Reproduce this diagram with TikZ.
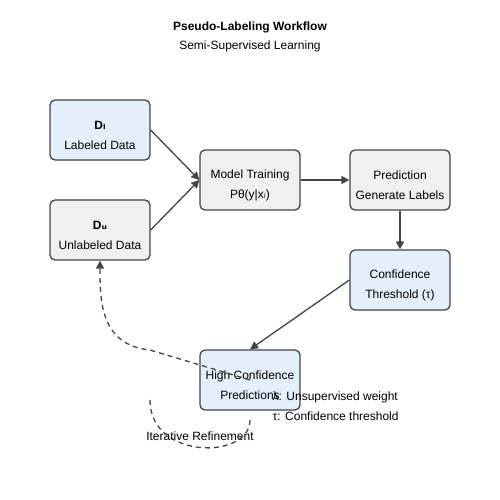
\documentclass[tikz,border=0pt]{standalone}
\usepackage{fontspec}
\setmainfont{Liberation Sans}
\newfontfamily\subfont{DejaVu Sans}
\usetikzlibrary{arrows.meta}
\definecolor{bluefill}{HTML}{E3F0FC}
\definecolor{grayfill}{HTML}{F0F0F0}
\definecolor{edge}{HTML}{444444}
\newcommand{\twolines}[2]{\rule{0pt}{19pt}#1\\#2}
\begin{document}
\begin{tikzpicture}[x=1pt, y=-1pt, line width=1.3pt, >={Triangle[length=8pt,width=8pt]},
	main/.style = {draw=edge, rounded corners=5pt, minimum width=100pt, minimum height=60pt, align=center, font=\fontsize{12}{20}\selectfont},
	lbl/.style = {font=\fontsize{12}{14}\selectfont, inner sep=0pt, anchor=base}]

		\useasboundingbox (0,0) rectangle (500,500);

		\node[lbl, font=\fontsize{12}{14}\bfseries] (title) at (250,31) {Pseudo-Labeling Workflow};
		\node[lbl] (subtitle) at (250,50) {Semi-Supervised Learning};

		\node[main, fill=bluefill] (dl) at (100,130) {\twolines{\textbf{D{\subfont ₗ}}}{Labeled Data}};
		\node[main, fill=grayfill] (du) at (100,230) {\twolines{\textbf{D{\subfont ᵤ}}}{Unlabeled Data}};
		\node[main, fill=grayfill] (train) at (250,180) {\twolines{Model Training}{Pθ(y|x{\subfont ᵢ})}};
		\node[main, fill=grayfill] (pred) at (400,180) {\twolines{Prediction}{Generate Labels}};
		\node[main, fill=bluefill] (conf) at (400,280) {\twolines{Confidence}{Threshold (τ)}};
		\node[main, fill=bluefill] (high) at (250,380) {\twolines{High Confidence}{Predictions}};

		\coordinate (loop1) at (150,400);
		\coordinate (loop2) at (250,420);
		\node[lbl] (iter) at (200,440) {Iterative Refinement};
		\node[lbl, anchor=base west] (lambda) at (272,400) {λ: Unsupervised weight};
		\node[lbl, anchor=base west] (tau) at (272,420) {τ: Confidence threshold};

		\draw[->, edge] (dl.east) -- (train.west);
		\draw[->, edge] (du.east) -- (train.west);
		\draw[->, edge] (train) -- (pred);
		\draw[->, edge] (pred) -- (conf);
		\draw[->, edge] (conf.west) -- (high.north);

		\draw[->, edge, dash pattern=on 5pt off 4pt] (high.center) -- (150,350) .. controls (100,345) and (100,300) .. (du.south);
		\draw[edge, dash pattern=on 5pt off 4pt] (loop1) .. controls (150,460) and (250,460) .. (loop2);
	\end{tikzpicture}
\end{document}
